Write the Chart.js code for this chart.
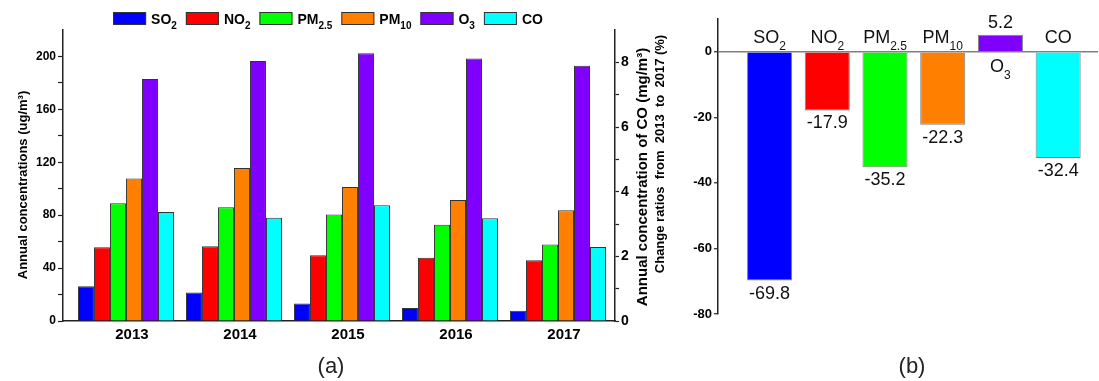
<!DOCTYPE html>
<html>
<head>
<meta charset="utf-8">
<script src="https://cdn.jsdelivr.net/npm/chart.js@4.4.0/dist/chart.umd.min.js"></script>
<style>
  body { margin: 0; background: #fff; }
  #wrap { position: relative; width: 1099px; height: 381px; }
  canvas { position: absolute; top: 0; }
  #chartA { left: 0; }
  #chartB { left: 650px; }
</style>
</head>
<body>
<div id="wrap">
  <canvas id="chartA" width="660" height="381"></canvas>
  <canvas id="chartB" width="449" height="381"></canvas>
</div>
<script>
const FONT = "'Liberation Sans', Arial, sans-serif";
Chart.defaults.font.family = FONT;
Chart.defaults.color = '#000';

// (a) annual concentrations
const years = [2013, 2014, 2015, 2016, 2017];
const so2 = [26.3, 21.5, 13.3, 9.8, 7.8];
const no2 = [55.7, 56.5, 49.7, 47.8, 46.0];
const pm25 = [89.0, 86.0, 80.5, 72.8, 57.8];
const pm10 = [107.8, 115.7, 101.3, 91.5, 83.8];
const o3 = [183.0, 196.5, 202.5, 198.5, 193.0];
const co = [3.37, 3.19, 3.58, 3.18, 2.29];   // mg/m3, right axis

// (b) change ratios 2013 -> 2017 (%)
const pollutants = ['SO2', 'NO2', 'PM2.5', 'PM10', 'O3', 'CO'];
const changeRatios = [-69.8, -17.9, -35.2, -22.3, 5.2, -32.4];

const colors = ['#0000ff', '#ff0000', '#00ff00', '#ff8000', '#8000ff', '#00ffff'];

// draws "PM2.5" style labels with the trailing number as a subscript
function subLabel(ctx, label, x, y, opt) {
  const m = label.match(/^([A-Za-z]+)([\d.]*)$/);
  const main = m[1], sub = m[2];
  const w = opt.weight || 'normal';
  ctx.font = `${w} ${opt.size}px ${FONT}`;
  const w1 = ctx.measureText(main).width;
  ctx.font = `${w} ${opt.subSize}px ${FONT}`;
  const w2 = sub ? ctx.measureText(sub).width : 0;
  if (opt.measureOnly) return w1 + w2;
  let x0 = opt.align === 'center' ? x - (w1 + w2) / 2 : x;
  ctx.textAlign = 'left';
  ctx.textBaseline = 'alphabetic';
  ctx.font = `${w} ${opt.size}px ${FONT}`;
  ctx.fillText(main, x0, y);
  if (sub) {
    ctx.font = `${w} ${opt.subSize}px ${FONT}`;
    ctx.fillText(sub, x0 + w1, y + opt.subDy);
  }
  return w1 + w2;
}

function rotatedText(ctx, text, x, y, font) {
  ctx.save();
  ctx.translate(x, y);
  ctx.rotate(-Math.PI / 2);
  ctx.font = font;
  ctx.textAlign = 'center';
  ctx.textBaseline = 'middle';
  ctx.fillText(text, 0, 0);
  ctx.restore();
}

const legendAndTitles = {
  id: 'legendAndTitles',
  afterDraw(chart) {
    const ctx = chart.ctx;
    ctx.save();
    ctx.fillStyle = '#000';
    // legend row
    const boxW = 33, boxH = 13, gapBox = 5, gapItem = 9;
    const opt = { size: 14, subSize: 10, subDy: 5, weight: 'bold' };
    const widths = pollutants.map(p => subLabel(ctx, p, 0, 0, Object.assign({ measureOnly: true }, opt)));
    const total = widths.reduce((s, w) => s + boxW + gapBox + w + gapItem, 0) - gapItem;
    let x = 328 - total / 2;
    pollutants.forEach((p, k) => {
      ctx.fillStyle = colors[k];
      ctx.fillRect(x, 12, boxW, boxH);
      ctx.strokeStyle = '#333';
      ctx.lineWidth = 1;
      ctx.strokeRect(x + 0.5, 12.5, boxW - 1, boxH - 1);
      ctx.fillStyle = '#000';
      subLabel(ctx, p, x + boxW + gapBox, 24, opt);
      x += boxW + gapBox + widths[k] + gapItem;
    });
    // axis titles
    ctx.fillStyle = '#000';
    rotatedText(ctx, 'Annual concentrations (ug/m³)', 23, 185, `bold 13px ${FONT}`);
    rotatedText(ctx, 'Annual concentration of CO (mg/m³)', 643, 177, `bold 15px ${FONT}`);
    ctx.font = `22px ${FONT}`;
    ctx.fillStyle = '#222';
    ctx.textAlign = 'center';
    ctx.textBaseline = 'middle';
    ctx.fillText('(a)', 331, 367);
    ctx.restore();
  }
};

new Chart(document.getElementById('chartA'), {
  type: 'bar',
  data: {
    datasets: [so2, no2, pm25, pm10, o3, co].map((vals, k) => ({
      label: pollutants[k],
      data: vals.map((v, i) => ({ x: years[i], y: v })),
      backgroundColor: colors[k],
      borderColor: '#333',
      borderWidth: 1,
      yAxisID: k === 5 ? 'y1' : 'y',
      categoryPercentage: 0.889,
      barPercentage: 1
    }))
  },
  options: {
    responsive: false,
    animation: false,
    layout: { padding: { top: 30 } },
    plugins: { legend: { display: false }, tooltip: { enabled: false } },
    scales: {
      x: {
        type: 'linear',
        offset: false,
        min: 2012.417,
        max: 2017.528,
        afterBuildTicks: s => { s.ticks = years.map(v => ({ value: v })); },
        afterFit: s => { s.height = 60; },
        grid: { offset: false, drawOnChartArea: false, drawTicks: false },
        border: { color: '#222', width: 1.5 },
        ticks: {
          padding: 5,
          labelOffset: 6,
          autoSkip: false,
          maxRotation: 0,
          font: { size: 15, weight: 'bold' },
          callback: v => String(v)
        }
      },
      y: {
        position: 'left',
        min: 0,
        max: 220,
        afterFit: s => { s.width = 63; },
        grid: {
          drawOnChartArea: false,
          tickLength: 5,
          tickWidth: 1.2,
          tickColor: c => (c.tick && c.tick.value > 200) ? 'rgba(0,0,0,0)' : '#222'
        },
        border: { color: '#222', width: 1.5 },
        ticks: {
          stepSize: 20,
          padding: 2,
          font: { size: 12, weight: 'bold' },
          callback: v => (v % 40 === 0 && v <= 200) ? v : ''
        }
      },
      y1: {
        position: 'right',
        min: 0,
        max: 9,
        afterFit: s => { s.width = 45; },
        grid: {
          drawOnChartArea: false,
          tickLength: 4,
          tickWidth: 1.2,
          tickColor: c => (c.tick && c.tick.value > 8) ? 'rgba(0,0,0,0)' : '#222'
        },
        border: { color: '#222', width: 1.5 },
        ticks: {
          stepSize: 1,
          padding: 2,
          font: { size: 14, weight: 'bold' },
          callback: v => (v % 2 === 0 && v <= 8) ? v : ''
        }
      }
    }
  },
  plugins: [legendAndTitles]
});

const barLabels = {
  id: 'barLabels',
  afterDatasetsDraw(chart) {
    const ctx = chart.ctx;
    const meta = chart.getDatasetMeta(0);
    ctx.save();
    ctx.fillStyle = '#111';
    meta.data.forEach((bar, i) => {
      const v = changeRatios[i];
      const nameOpt = { size: 18, subSize: 12, subDy: 7, align: 'center' };
      ctx.font = `18px ${FONT}`;
      ctx.textAlign = 'center';
      ctx.textBaseline = 'alphabetic';
      if (v < 0) {
        ctx.fillText(v.toFixed(1), bar.x, bar.y + 18);
        subLabel(ctx, pollutants[i], bar.x, bar.base - 10, nameOpt);
      } else {
        ctx.fillText(v.toFixed(1), bar.x, bar.y - 7);
        subLabel(ctx, pollutants[i], bar.x, bar.base + 21, nameOpt);
      }
    });
    ctx.restore();
  },
  afterDraw(chart) {
    const ctx = chart.ctx;
    ctx.save();
    ctx.fillStyle = '#000';
    rotatedText(ctx, 'Change ratios  from  2013  to  2017 (%)', 10, 154, `bold 13px ${FONT}`);
    ctx.font = `22px ${FONT}`;
    ctx.fillStyle = '#222';
    ctx.textAlign = 'center';
    ctx.textBaseline = 'middle';
    ctx.fillText('(b)', 262, 367);
    ctx.restore();
  }
};

new Chart(document.getElementById('chartB'), {
  type: 'bar',
  data: {
    datasets: [{
      data: changeRatios.map((v, i) => ({ x: i, y: v })),
      backgroundColor: colors,
      borderColor: '#808080',
      borderWidth: 1,
      categoryPercentage: 1,
      barPercentage: 0.78
    }]
  },
  options: {
    responsive: false,
    animation: false,
    layout: { padding: { top: 19, bottom: 67, right: 1 } },
    plugins: { legend: { display: false }, tooltip: { enabled: false } },
    scales: {
      x: {
        type: 'linear',
        offset: false,
        min: -0.893,
        max: 5.69,
        afterBuildTicks: s => { s.ticks = pollutants.map((p, i) => ({ value: i })); },
        afterFit: s => { s.height = 0; },
        grid: { offset: false, display: false, drawTicks: false },
        border: { display: false },
        ticks: { display: false }
      },
      y: {
        min: -80,
        max: 10,
        afterFit: s => { s.width = 68; },
        grid: {
          color: c => (c.tick && c.tick.value === 0) ? '#808080' : 'rgba(0,0,0,0)',
          lineWidth: 1.5,
          tickColor: '#222',
          tickLength: 4,
          tickWidth: 1.2
        },
        border: { color: '#222', width: 1.5 },
        ticks: {
          stepSize: 20,
          includeBounds: false,
          padding: 2,
          font: { size: 13, weight: 'bold' }
        }
      }
    }
  },
  plugins: [barLabels]
});
</script>
</body>
</html>
